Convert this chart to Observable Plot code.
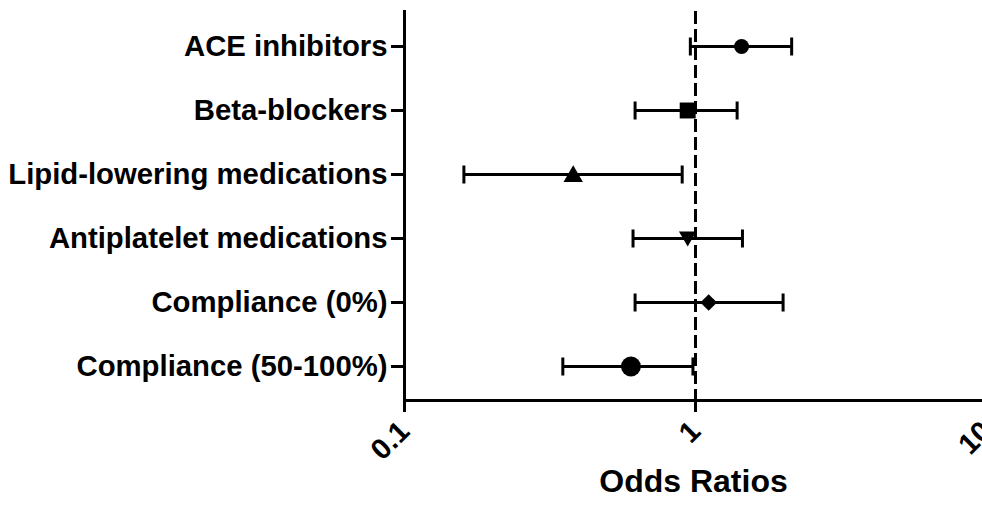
<!DOCTYPE html>
<html>
<head>
<meta charset="utf-8">
<script src="https://cdn.jsdelivr.net/npm/d3@7"></script>
<script src="https://cdn.jsdelivr.net/npm/@observablehq/plot@0.6"></script>
<style>
  html, body { margin: 0; padding: 0; background: #fff; }
  #chart svg { display: block; }
</style>
</head>
<body>
<div id="chart"></div>
<script>
const categories = ["ACE inhibitors", "Beta-blockers", "Lipid-lowering medications", "Antiplatelet medications", "Compliance (0%)", "Compliance (50-100%)"];
const oddsRatio = [1.44, 0.94, 0.38, 0.94, 1.11, 0.60];
const ciLower = [0.96, 0.62, 0.16, 0.61, 0.62, 0.35];
const ciUpper = [2.14, 1.39, 0.90, 1.45, 2.00, 0.98];
const xTicks = [0.1, 1, 10];
const xLabel = "Odds Ratios";
const referenceLine = [1];

const rows = categories.map((c, i) => ({cat: c, or: oddsRatio[i], lo: ciLower[i], hi: ciUpper[i]}));

const markerStyles = [
  {symbol: "circle", r: 7.5, rotate: 0, dy: 0},
  {symbol: "square", r: 9, rotate: 0, dy: 0},
  {symbol: "triangle", r: 7.2, rotate: 0, dy: 2},
  {symbol: "triangle", r: 6.5, rotate: 180, dy: -2},
  {symbol: "diamond2", r: 7.5, rotate: 0, dy: 0},
  {symbol: "circle", r: 10, rotate: 0, dy: 0}
];

// vertical cap symbol for error bars (height 18px)
const capSymbol = {draw(context, size) { const h = 18; context.moveTo(0, -h / 2); context.lineTo(0, h / 2); }};

const font = "'Liberation Sans', Arial, Helvetica, sans-serif";

const chart = Plot.plot({
  width: 982,
  height: 521,
  marginLeft: 404,
  marginRight: 0,
  marginTop: 11,
  marginBottom: 121,
  style: {fontFamily: font, color: "#000", background: "#fff"},
  x: {type: "log", domain: [0.1, 10], range: [404, 986]},
  y: {type: "point", domain: categories, range: [46, 366], padding: 0},
  marks: [
    Plot.ruleX(referenceLine, {stroke: "#000", strokeWidth: 3, strokeDasharray: "13,5"}),
    Plot.link(rows, {y1: "cat", y2: "cat", x1: "lo", x2: "hi", stroke: "#000", strokeWidth: 3}),
    Plot.dot(rows, {x: "lo", y: "cat", symbol: capSymbol, r: 9, fill: "none", stroke: "#000", strokeWidth: 3}),
    Plot.dot(rows, {x: "hi", y: "cat", symbol: capSymbol, r: 9, fill: "none", stroke: "#000", strokeWidth: 3}),
    ...rows.map((d, i) => Plot.dot([d], {
      x: "or", y: "cat",
      symbol: markerStyles[i].symbol,
      r: markerStyles[i].r,
      rotate: markerStyles[i].rotate,
      dy: markerStyles[i].dy,
      fill: "#000", stroke: "none"
    })),
    Plot.frame({anchor: "left", stroke: "#000", strokeWidth: 3}),
    Plot.frame({anchor: "bottom", stroke: "#000", strokeWidth: 3}),
    Plot.axisY({
      tickSize: 13, tickPadding: 4, strokeWidth: 3,
      fontSize: 29.3, fontWeight: "bold", label: null, fill: "#000"
    }),
    Plot.axisX({
      ticks: xTicks, tickFormat: d => String(d),
      tickSize: 12, tickPadding: 14, strokeWidth: 3, tickRotate: -45,
      fontSize: 29, fontWeight: "bold", label: null, fill: "#000"
    }),
    Plot.text([xLabel], {frameAnchor: "bottom", dy: 91, fontSize: 32, fontWeight: "bold", fill: "#000"})
  ]
});

document.getElementById("chart").appendChild(chart);
</script>
</body>
</html>
